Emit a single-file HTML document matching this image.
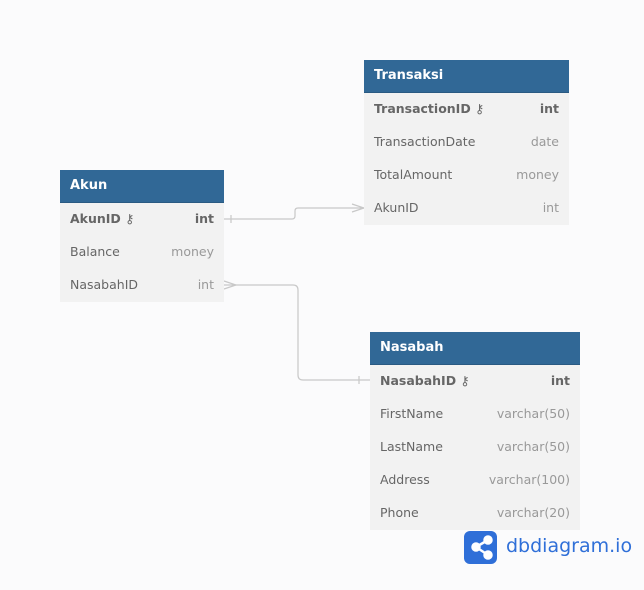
<!DOCTYPE html><html><head><style>
body{margin:0;width:644px;height:590px;background:#fbfbfc;position:relative;font-family:"DejaVu Sans","Liberation Sans",sans-serif;overflow:hidden}
.t{position:absolute;background:#f2f2f2}
.h{background:#316896;color:#fff;font-weight:bold;font-size:13px;height:33px;line-height:32px;padding-left:10px;border-bottom:1px solid #2a5a82;box-sizing:border-box}
.r{height:33px;line-height:31px;font-size:12.5px;color:#666;padding:0 10px;display:flex;justify-content:space-between}
.r span:last-child{color:#999}
.b span{font-weight:bold;color:#666!important}
svg{position:absolute;left:0;top:0}
</style></head><body>
<svg width="644" height="590"><g fill="none" stroke="#c8c8c8" stroke-width="1.2">
<path d="M224 219 H292 Q295 219 295 216 V211 Q295 208 298 208 H364"/>
<path d="M231 215v8M352 204l12 4l-12 4"/>
<path d="M224 285 H293 Q298 285 298 290 V375 Q298 380 303 380 H370"/>
<path d="M224 281l12 4l-12 4M359 376v8"/>
</g></svg>
<div class="t" style="left:60px;top:170px;width:164px"><div class="h">Akun</div>
<div class="r b"><span>AkunID ⚷</span><span>int</span></div><div class="r"><span>Balance</span><span>money</span></div><div class="r"><span>NasabahID</span><span>int</span></div></div>
<div class="t" style="left:364px;top:60px;width:205px"><div class="h">Transaksi</div>
<div class="r b"><span>TransactionID ⚷</span><span>int</span></div><div class="r"><span>TransactionDate</span><span>date</span></div><div class="r"><span>TotalAmount</span><span>money</span></div><div class="r"><span>AkunID</span><span>int</span></div></div>
<div class="t" style="left:370px;top:332px;width:210px"><div class="h">Nasabah</div>
<div class="r b"><span>NasabahID ⚷</span><span>int</span></div><div class="r"><span>FirstName</span><span>varchar(50)</span></div><div class="r"><span>LastName</span><span>varchar(50)</span></div><div class="r"><span>Address</span><span>varchar(100)</span></div><div class="r"><span>Phone</span><span>varchar(20)</span></div></div>
<div style="position:absolute;left:464px;top:531px;width:33px;height:33px;border-radius:6px;background:#2f6fd8"></div>
<svg width="644" height="590"><g stroke="#fff" stroke-width="2.5" fill="#fff"><path d="M476 547 L488 540 M476 547 L488 555"/><circle cx="476" cy="547" r="3.5"/><circle cx="488" cy="540" r="3.5"/><circle cx="488" cy="555" r="3.5"/></g></svg>
<div style="position:absolute;left:506px;top:535px;font-size:19px;color:#2f6fd8">dbdiagram.io</div>
</body></html>
